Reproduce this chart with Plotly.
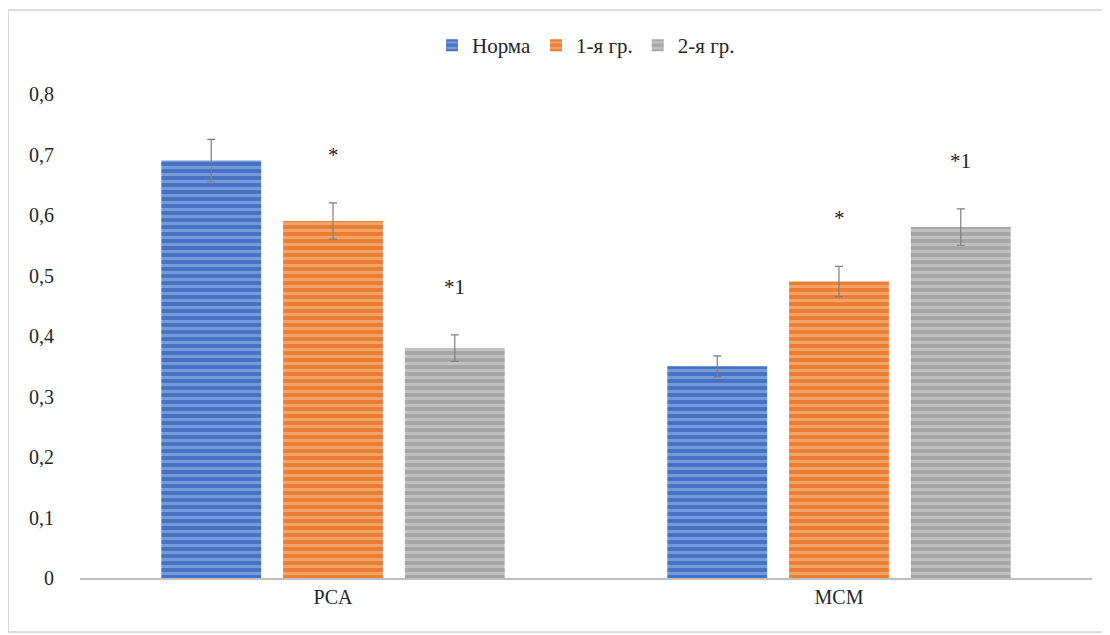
import plotly.graph_objects as go

categories = ["PCA", "MCM"]
series_names = ["Норма", "1-я гр.", "2-я гр."]
norma = [0.69, 0.35]
gr1 = [0.59, 0.49]
gr2 = [0.38, 0.58]
norma_err = [0.035, 0.017]
gr1_err = [0.03, 0.025]
gr2_err = [0.022, 0.03]
gr1_marks = ["*", "*"]
gr2_marks = ["*1", "*1"]

colors = ["#4472C4", "#ED7D31", "#A5A5A5"]
stripe = ["#A9C0EA", "#F6C9A8", "#DCDCDC"]

BARGAP = 0.278
BARGROUPGAP = 0.18
FONT = "Liberation Serif"

fig = go.Figure()
values = [norma, gr1, gr2]
errs = [norma_err, gr1_err, gr2_err]
for name, v, e, c, s in zip(series_names, values, errs, colors, stripe):
    fig.add_trace(go.Bar(
        x=categories, y=v, name=name,
        marker=dict(color=c, line=dict(width=0),
                    pattern=dict(shape="-", fgcolor=s, bgcolor=c, size=7, solidity=0.45)),
        error_y=dict(type="data", array=e, visible=True, color="#7F7F7F", thickness=1.2, width=4),
    ))

slot = (1 - BARGAP) / 3
for si, marks in [(1, gr1_marks), (2, gr2_marks)]:
    for ci, m in enumerate(marks):
        fig.add_annotation(
            x=ci + (si - 1) * slot, y=values[si][ci] + errs[si][ci],
            xref="x", yref="y", text=m, showarrow=False, yshift=48,
            font=dict(family=FONT, size=21, color="#222222"),
        )

fig.add_shape(type="rect", xref="paper", yref="paper",
              x0=(8 - 80) / 1013, x1=(1115 - 80) / 1013,
              y0=(578 - 632) / 484, y1=(578 - 10) / 484,
              line=dict(color="#D0D0D0", width=1.5), fillcolor="rgba(0,0,0,0)", layer="below")

fig.update_layout(
    width=1100, height=625,
    margin=dict(l=72, r=16, t=86, b=55, autoexpand=False),
    paper_bgcolor="white", plot_bgcolor="white",
    barmode="group", bargap=BARGAP, bargroupgap=BARGROUPGAP,
    separators=", ",
    font=dict(family=FONT, size=17, color="#262626"),
    legend=dict(orientation="h", x=0.5, xanchor="center", y=1.1, yanchor="middle",
                font=dict(family=FONT, size=21), itemwidth=30, traceorder="normal",
                bgcolor="rgba(0,0,0,0)"),
    xaxis=dict(showline=True, linecolor="#BFBFBF", linewidth=1.5, ticks="",
               tickfont=dict(family=FONT, size=20), showgrid=False, automargin=False),
    yaxis=dict(range=[0, 0.8], dtick=0.1, showgrid=False, zeroline=False,
               showline=False, ticks="", tickfont=dict(family=FONT, size=20),
               ticklabelstandoff=25, automargin=False),
    showlegend=True,
)

fig.write_html("out.html")
